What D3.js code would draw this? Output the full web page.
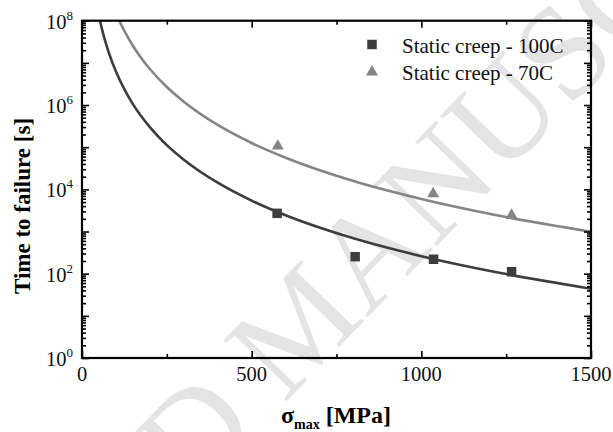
<!DOCTYPE html>
<html>
<head>
<meta charset="utf-8">
<script src="https://cdn.jsdelivr.net/npm/d3@7"></script>
<style>
  html, body { margin: 0; padding: 0; background: #fff; }
  svg { display: block; }
</style>
</head>
<body>
<svg id="chart" width="613" height="432" font-family="'Liberation Serif', 'Times New Roman', Times, 'DejaVu Serif', serif"></svg>
<script>
// ---------- data ----------
const xTickMajor = [0, 500, 1000, 1500];
const xTickMinor = [250, 750, 1250];
const yDecades = [0, 1, 2, 3, 4, 5, 6, 7, 8];
const yLabelDecades = [0, 2, 4, 6, 8];

// measured points
const creep100Stress = [575, 805, 1036, 1266];
const creep100Time   = [2700, 253, 220, 111];
const creep70Stress  = [577, 1035, 1266];
const creep70Time    = [1.12e5, 8300, 2570];

// fitted curves
const fit100Stress = [53, 60, 70, 80, 100, 125, 150, 200, 250, 300, 400, 500, 600, 800, 1000, 1250, 1500];
const fit100Time   = [1e8, 5.81e7, 2.96e7, 1.65e7, 6.21e6, 2.34e6, 1.05e6, 2.99e5, 1.12e5, 5.06e4, 1.44e4, 5410, 2430, 690, 260, 98, 44];
const fit70Stress  = [110, 120, 135, 150, 175, 200, 250, 300, 400, 500, 600, 800, 1000, 1250, 1500];
const fit70Time    = [1e8, 6.81e7, 4.06e7, 2.55e7, 1.29e7, 7.16e6, 2.67e6, 1.20e6, 3.37e5, 1.26e5, 5.64e4, 1.58e4, 5930, 2210, 990];

const legendLabels = ["Static creep - 100C", "Static creep - 70C"];

// ---------- layout ----------
const FONT = "'Liberation Serif', 'Times New Roman', Times, serif";
const svg = d3.select("#chart");
const L = 82, R = 591, T = 20.7, B = 358;
const darkCol = "#3d3d3d", grayCol = "#858585";

const x = d3.scaleLinear().domain([0, 1500]).range([L, R]);
const y = d3.scaleLog().domain([1, 1e8]).range([B, T]);

// watermark
const wm = svg.append("g").attr("transform", "translate(284,404) rotate(-46)");
wm.append("text").attr("x", 0).attr("y", 0).attr("text-anchor", "start").attr("font-family", FONT)
  .attr("font-size", 134).attr("fill", "#e4e4e4").text("MANUSCRIPT");
wm.append("text").attr("x", 0).attr("y", 0).attr("text-anchor", "end").attr("font-family", FONT)
  .attr("font-size", 134).attr("fill", "#e4e4e4").text("ACCEPTED\u00a0");

// clip
svg.append("clipPath").attr("id", "clip").append("rect")
  .attr("x", L).attr("y", T).attr("width", R - L).attr("height", B - T);

// curves
const line = d3.line().x(d => x(d[0])).y(d => y(d[1])).curve(d3.curveMonotoneX);
const g = svg.append("g").attr("clip-path", "url(#clip)");
g.append("path").datum(fit70Stress.map((s, i) => [s, fit70Time[i]]))
  .attr("d", line).attr("fill", "none").attr("stroke", grayCol).attr("stroke-width", 2.6);
g.append("path").datum(fit100Stress.map((s, i) => [s, fit100Time[i]]))
  .attr("d", line).attr("fill", "none").attr("stroke", darkCol).attr("stroke-width", 2.6);

// markers
const sq = d3.symbol().type(d3.symbolSquare).size(90);
const tri = d3.symbol().type(d3.symbolTriangle).size(62);
svg.append("g").selectAll("path").data(creep100Stress.map((s, i) => [s, creep100Time[i]]))
  .join("path").attr("d", sq).attr("fill", darkCol)
  .attr("transform", d => `translate(${x(d[0])},${y(d[1])})`);
svg.append("g").selectAll("path").data(creep70Stress.map((s, i) => [s, creep70Time[i]]))
  .join("path").attr("d", tri).attr("fill", grayCol)
  .attr("transform", d => `translate(${x(d[0])},${y(d[1]) + 1})`);

// axes (inward ticks on all four sides)
const yMajor = yDecades.map(p => Math.pow(10, p));
const yMinor = [];
yDecades.slice(0, -1).forEach(p => { for (let k = 2; k <= 9; k++) yMinor.push(k * Math.pow(10, p)); });

function styleAxis(sel) {
  sel.selectAll("text").remove();
  sel.select(".domain").remove();
  sel.selectAll("line").attr("stroke", "#000").attr("stroke-width", 1.6);
}
svg.append("g").attr("transform", `translate(0,${B})`).call(d3.axisBottom(x).tickValues(xTickMajor).tickSize(-7)).call(styleAxis);
svg.append("g").attr("transform", `translate(0,${B})`).call(d3.axisBottom(x).tickValues(xTickMinor).tickSize(-4)).call(styleAxis);
svg.append("g").attr("transform", `translate(0,${T})`).call(d3.axisTop(x).tickValues(xTickMajor).tickSize(-7)).call(styleAxis);
svg.append("g").attr("transform", `translate(0,${T})`).call(d3.axisTop(x).tickValues(xTickMinor).tickSize(-4)).call(styleAxis);
svg.append("g").attr("transform", `translate(${L},0)`).call(d3.axisLeft(y).tickValues(yMajor).tickSize(-7)).call(styleAxis);
svg.append("g").attr("transform", `translate(${L},0)`).call(d3.axisLeft(y).tickValues(yMinor).tickSize(-4)).call(styleAxis);
svg.append("g").attr("transform", `translate(${R},0)`).call(d3.axisRight(y).tickValues(yMajor).tickSize(-7)).call(styleAxis);
svg.append("g").attr("transform", `translate(${R},0)`).call(d3.axisRight(y).tickValues(yMinor).tickSize(-4)).call(styleAxis);

// frame
svg.append("rect").attr("x", L).attr("y", T).attr("width", R - L).attr("height", B - T)
  .attr("fill", "none").attr("stroke", "#000").attr("stroke-width", 2.2);

// tick labels
svg.append("g").selectAll("text").data(xTickMajor).join("text")
  .attr("x", d => x(d)).attr("y", 381).attr("text-anchor", "middle").attr("font-family", FONT)
  .attr("font-size", 20.5).attr("fill", "#111").text(d => d);

const yl = svg.append("g").selectAll("text").data(yLabelDecades).join("text")
  .attr("x", 73).attr("y", d => y(Math.pow(10, d)) + 8).attr("text-anchor", "end").attr("font-family", FONT)
  .attr("font-size", 20.5).attr("fill", "#111");
yl.append("tspan").text("10");
yl.append("tspan").attr("font-size", 13).attr("dy", -9).text(d => d);

// axis titles
svg.append("text").attr("transform", "translate(30,206) rotate(-90)").attr("font-family", FONT)
  .attr("text-anchor", "middle").attr("font-size", 23).attr("font-weight", "bold")
  .text("Time to failure [s]");

const xt = svg.append("text").attr("x", 336).attr("y", 423).attr("text-anchor", "middle").attr("font-family", FONT)
  .attr("font-size", 24).attr("font-weight", "bold");
xt.append("tspan").text("σ");
xt.append("tspan").attr("font-size", 14).attr("dy", 6).text("max");
xt.append("tspan").attr("dy", -6).text("\u00a0[MPa]");

// legend
const leg = svg.append("g");
leg.append("path").attr("d", sq).attr("fill", darkCol).attr("transform", "translate(372,44.5)");
leg.append("path").attr("d", tri).attr("fill", grayCol).attr("transform", "translate(372,72)");
leg.selectAll("text").data(legendLabels).join("text")
  .attr("x", 402).attr("y", (d, i) => 52.5 + i * 27.5).attr("font-family", FONT)
  .attr("font-size", 21).attr("fill", "#111").text(d => d);
</script>
</body>
</html>
